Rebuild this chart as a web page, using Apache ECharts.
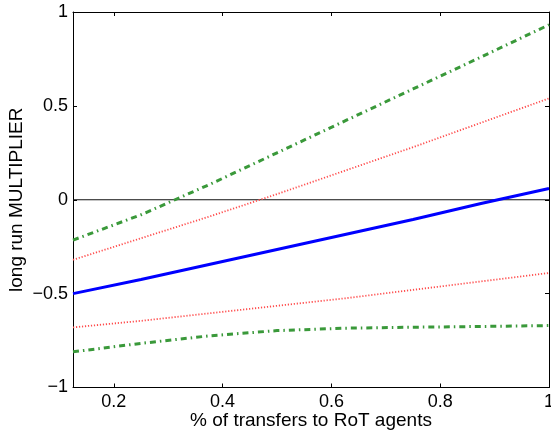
<!DOCTYPE html>
<html><head><meta charset="utf-8">
<script src="https://cdn.jsdelivr.net/npm/echarts@6/dist/echarts.min.js"></script>
<style>html,body{margin:0;padding:0;background:#fff}#c{width:551px;height:431px}</style>
</head><body><div id="c"></div>
<script>
const xValues = [0.125, 0.25, 0.375, 0.5, 0.625, 0.75, 0.875, 1];
const multiplier = [-0.5, -0.425, -0.345, -0.265, -0.185, -0.105, -0.02, 0.06];
const upperDotted = [-0.32, -0.205, -0.09, 0.03, 0.155, 0.28, 0.41, 0.54];
const lowerDotted = [-0.68, -0.645, -0.605, -0.565, -0.525, -0.48, -0.435, -0.39];
const upperDashDot = [-0.215, -0.08, 0.08, 0.25, 0.42, 0.59, 0.76, 0.932];
const lowerDashDot = [-0.81, -0.765, -0.725, -0.697, -0.684, -0.679, -0.675, -0.67];
const zeroLine = [0, 0];
const xRange = [0.125, 1];
const xTicks = [0.2, 0.4, 0.6, 0.8, 1];

const pair = (ys) => xValues.map((x, i) => [x, ys[i]]);
const font = 'Liberation Sans';
const fmt = v => String(v).replace('-', '\u2212');

const baseX = {
  type: 'value', min: xRange[0], max: xRange[1],
  axisLine: {show: true, onZero: false, lineStyle: {color: '#000', width: 1}},
  axisTick: {show: true, inside: true, length: 4, customValues: xTicks, lineStyle: {color: '#000'}},
  splitLine: {show: false}
};
const baseY = {
  type: 'value', min: -1, max: 1, interval: 0.5,
  axisLine: {show: true, onZero: false, lineStyle: {color: '#000', width: 1}},
  axisTick: {show: true, inside: true, length: 4, lineStyle: {color: '#000'}},
  splitLine: {show: false}
};

const chart = echarts.init(document.getElementById('c'));
chart.setOption({
  animation: false,
  backgroundColor: '#fff',
  grid: {left: 73, right: 2, top: 12, bottom: 43.5, containLabel: false, outerBoundsMode: 'none'},
  xAxis: [
    Object.assign({}, baseX, {
      position: 'bottom',
      name: '% of transfers to RoT agents', nameLocation: 'middle', nameGap: 24,
      nameMoveOverlap: false,
      nameTextStyle: {fontFamily: font, fontSize: 19, color: '#000'},
      axisLabel: {show: true, customValues: xTicks, formatter: fmt, margin: 6,
        fontFamily: font, fontSize: 18, color: '#000'}
    }),
    Object.assign({}, baseX, {position: 'top', axisLabel: {show: false}})
  ],
  yAxis: [
    Object.assign({}, baseY, {
      position: 'left',
      name: 'long run MULTIPLIER', nameLocation: 'middle', nameGap: 47,
      nameMoveOverlap: false,
      nameTextStyle: {fontFamily: font, fontSize: 19, color: '#000'},
      axisLabel: {show: true, formatter: fmt, margin: 5,
        fontFamily: font, fontSize: 18, color: '#000'}
    }),
    Object.assign({}, baseY, {position: 'right', axisLabel: {show: false}})
  ],
  series: [
    {type: 'line', data: xRange.map((x, i) => [x, zeroLine[i]]), symbol: 'none',
      lineStyle: {color: '#111', width: 1}, z: 1},
    {type: 'line', data: pair(upperDashDot), symbol: 'none',
      lineStyle: {color: '#3a993a', width: 3, type: [6, 4, 1.5, 4]}},
    {type: 'line', data: pair(lowerDashDot), symbol: 'none',
      lineStyle: {color: '#3a993a', width: 3, type: [6, 4, 1.5, 4]}},
    {type: 'line', data: pair(upperDotted), symbol: 'none',
      lineStyle: {color: '#ff4d4d', width: 1.8, type: [1.2, 1.8]}},
    {type: 'line', data: pair(lowerDotted), symbol: 'none',
      lineStyle: {color: '#ff4d4d', width: 1.8, type: [1.2, 1.8]}},
    {type: 'line', data: pair(multiplier), symbol: 'none',
      lineStyle: {color: '#0000ff', width: 3}}
  ]
});
</script></body></html>
